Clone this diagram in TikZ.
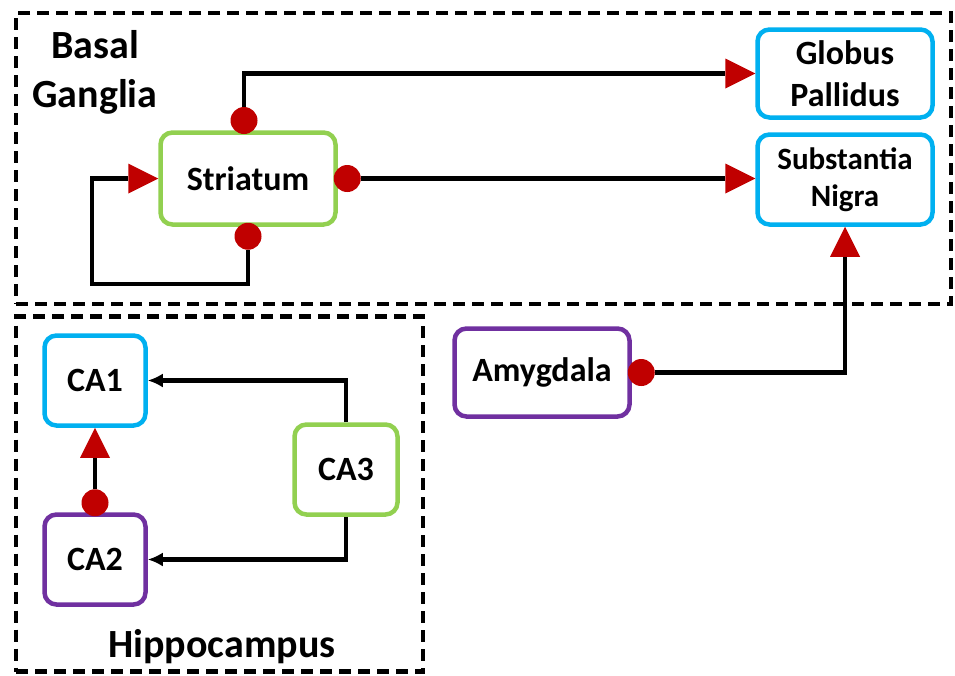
\documentclass[tikz,border=0pt]{standalone}
\usepackage{fontspec}
\setmainfont{Carlito}
\usetikzlibrary{arrows.meta}
\definecolor{cgreen}{HTML}{92D050}
\definecolor{cblue}{HTML}{00B0F0}
\definecolor{cpurple}{HTML}{7030A0}
\definecolor{dred}{HTML}{C00000}
\begin{document}
\begin{tikzpicture}[x=1pt,y=-1pt,
  box/.style={draw, line width=4.5pt, rounded corners=12pt, fill=white, align=center,
    font=\bfseries\fontsize{34}{42}\selectfont, inner sep=0pt},
  group/.style={draw, line width=4.8pt, dash pattern=on 12pt off 7pt, inner sep=0pt},
  lbl/.style={font=\bfseries\fontsize{40}{49}\selectfont, inner sep=0pt},
  conn/.style={line width=4.5pt},
  dotarrow/.style={conn, {Circle[length=27pt,color=dred,line width=0pt]}-{Triangle[length=30pt,width=30pt,color=dred,line width=0pt]}, shorten <=-4pt},
  blackarrow/.style={conn, -{Latex[length=15pt,width=14pt]}}
]
\useasboundingbox (0,0) rectangle (955,675);
\fill[white] (0,0) rectangle (955,675);
% groups
\node[group, minimum width=935pt, minimum height=291pt] (bgbox) at (483.5,158.5) {};
\node[group, minimum width=407pt, minimum height=355pt] (hcbox) at (219.5,494) {};
\node[lbl, anchor=base] (basal) at (95,58) {Basal};
\node[lbl, anchor=base] (ganglia) at (95,107) {Ganglia};
\node[lbl, anchor=base] (hippo) at (222,657) {Hippocampus};
% boxes
\node[box, draw=cgreen, minimum width=175pt, minimum height=92pt] (str) at (248,178.5) {Striatum};
\node[box, draw=cblue, minimum width=175pt, minimum height=88pt] (gp) at (845,73.5) {Globus\\Pallidus};
\node[box, draw=cblue, minimum width=175pt, minimum height=90pt, font=\bfseries\fontsize{31}{37}\selectfont] (sn) at (845,179.5) {Substantia\\Nigra};
\node[box, draw=cpurple, minimum width=175pt, minimum height=88pt] (amy) at (542,372.5) {Amygdala};
\node[box, draw=cblue, minimum width=101pt, minimum height=90pt] (ca1) at (95,380.5) {CA1};
\node[box, draw=cpurple, minimum width=101pt, minimum height=90pt] (ca2) at (95,559.5) {CA2};
\node[box, draw=cgreen, minimum width=103pt, minimum height=90pt] (ca3) at (346,469.5) {CA3};
% connectors
\coordinate (strtop) at (244,130);
\coordinate (loopc) at (92,284);
\draw[dotarrow] (strtop) |- (gp.west);
\draw[dotarrow] (str.east) -- (str.east -| gp.west);
\draw[dotarrow] (str.south) |- (loopc) |- (str.west);
\draw[dotarrow] (amy.east) -| (sn.south);
\draw[dotarrow] (ca2.north) -- (ca1.south);
\draw[blackarrow] (ca3.north) |- (ca1.east);
\draw[blackarrow] (ca3.south) |- (ca2.east);
\end{tikzpicture}
\end{document}
